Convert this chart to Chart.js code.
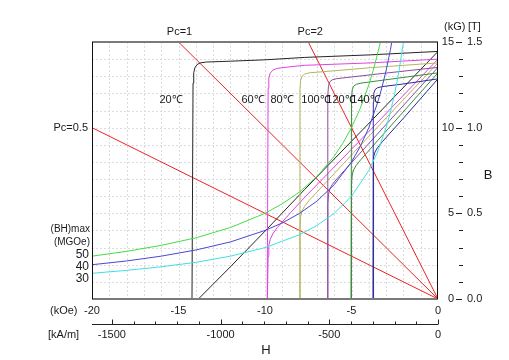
<!DOCTYPE html>
<html>
<head>
<meta charset="utf-8">
<script src="https://cdn.jsdelivr.net/npm/chart.js@4.4.1/dist/chart.umd.min.js"></script>
<style>
  html, body { margin: 0; padding: 0; background: #fff; }
  #wrap { width: 509px; height: 360px; position: relative; }
</style>
</head>
<body>
<div id="wrap"><canvas id="chartBH"></canvas></div>
<script>
// ---- datos (H en kOe, B en kG) ----
const hTicks = [-20, -15, -10, -5, 0];
const kamTicks = [-1500, -1000, -500, 0];
const bTicks = [0, 5, 10, 15];
const teslaTicks = ['0.0', '0.5', '1.0', '1.5'];
const tempLabels = ['20℃', '60℃', '80℃', '100℃', '120℃', '140℃'];
const bhLabels = ['50', '40', '30'];
const curveColors = ['#262626', '#e044e0', '#b4b45c', '#8c4a9c', '#3a8c3a', '#2a2a9c'];

// curvas intrinsecas (J) por temperatura
const j20 = [[-14.22,0],[-14.16,12.6],[-14.12,13.2],[-14.05,13.5],[-13.93,13.68],[-13.75,13.78],[-13.4,13.83],[-12,13.88],[-10,13.96],[-7.7,14.1],[-3.9,14.25],[0,14.45]];
const j60 = [[-9.87,0],[-9.82,12.3],[-9.78,12.9],[-9.7,13.18],[-9.55,13.35],[-9.3,13.46],[-8.5,13.56],[-7.7,13.64],[-3.9,13.78],[0,14.0]];
const j80 = [[-8.02,0],[-7.98,12.2],[-7.94,12.75],[-7.86,13.0],[-7.72,13.12],[-7.45,13.2],[-6,13.32],[-3.9,13.5],[0,13.78]];
const j100 = [[-6.4,0],[-6.37,11.9],[-6.33,12.45],[-6.25,12.68],[-6.1,12.8],[-5.85,12.86],[-3.5,13.13],[0,13.52]];
const j120 = [[-5.03,0],[-5.0,11.7],[-4.96,12.2],[-4.88,12.42],[-4.72,12.53],[-4.45,12.6],[-3.5,12.73],[0,13.2]];
const j140 = [[-3.76,0],[-3.74,11.5],[-3.71,12.0],[-3.64,12.22],[-3.5,12.33],[-3.2,12.4],[-2,12.55],[0,12.85]];

// curvas normales (B)
const b20 = [[-13.85,0],[-12,1.88],[-10,3.96],[-7.7,6.4],[-3.9,10.35],[0,14.45]];
const b60 = [[-9.86,0],[-9.82,2.48],[-9.78,3.12],[-9.7,3.48],[-9.55,3.8],[-9.3,4.16],[-8.5,5.06],[-7.7,5.94],[-3.9,9.88],[0,14.0]];
const b80 = [[-8.0,0],[-7.98,4.22],[-7.94,4.81],[-7.86,5.14],[-7.72,5.4],[-7.45,5.75],[-6,7.32],[-3.9,9.6],[0,13.78]];
const b100 = [[-6.39,0],[-6.37,5.53],[-6.33,6.12],[-6.25,6.43],[-6.1,6.7],[-5.85,7.01],[-3.5,9.63],[0,13.52]];
const b120 = [[-5.02,0],[-5.0,6.7],[-4.96,7.24],[-4.88,7.54],[-4.72,7.81],[-4.45,8.15],[-3.5,9.23],[0,13.2]];
const b140 = [[-3.75,0],[-3.74,7.76],[-3.71,8.29],[-3.64,8.58],[-3.5,8.83],[-3.2,9.2],[-2,10.55],[0,12.85]];

// (BH)max 50 / 40 / 30 MGOe
const bh50 = [[-20,2.5],[-18,2.78],[-16,3.13],[-14,3.57],[-12,4.17],[-10,5.0],[-9,5.56],[-8,6.25],[-7,7.14],[-6,8.33],[-5.5,9.09],[-5,10.0],[-4.5,11.11],[-4,12.5],[-3.75,13.33],[-3.5,14.29],[-3.33,15]];
const bh40 = [[-20,2.0],[-18,2.22],[-16,2.5],[-14,2.86],[-12,3.33],[-10,4.0],[-9,4.44],[-8,5.0],[-7,5.71],[-6,6.67],[-5,8.0],[-4.5,8.89],[-4,10.0],[-3.5,11.43],[-3.25,12.31],[-3,13.33],[-2.75,14.55],[-2.67,15]];
const bh30 = [[-20,1.5],[-18,1.67],[-16,1.88],[-14,2.14],[-12,2.5],[-10,3.0],[-8,3.75],[-7,4.29],[-6,5.0],[-5,6.0],[-4,7.5],[-3.5,8.57],[-3,10.0],[-2.75,10.91],[-2.5,12.0],[-2.25,13.33],[-2,15]];

// rectas de permeancia Pc
const pc05 = [[-20,10],[0,0]];
const pc1 = [[-15,15],[0,0]];
const pc2 = [[-7.5,15],[0,0]];

const KAM_PER_KOE = 79.577;

function toPts(arr) { return arr.map(p => ({ x: p[0], y: p[1] })); }
function serie(arr, color) {
    return { data: toPts(arr), borderColor: color, borderWidth: 1, pointRadius: 0, showLine: true, fill: false, tension: 0 };
}

const datasets = [
    serie(bh50, '#44dd44'),
    serie(bh40, '#4848d0'),
    serie(bh30, '#44dede')
];
[j20, j60, j80, j100, j120, j140].forEach((c, i) => datasets.push(serie(c, curveColors[i])));
[b20, b60, b80, b100, b120, b140].forEach((c, i) => datasets.push(serie(c, curveColors[i])));
[pc05, pc1, pc2].forEach(c => datasets.push(serie(c, '#ee2222')));

const FONT = '"Liberation Sans", Arial, sans-serif';

const ejes = {
    id: 'ejes',
    beforeDatasetsDraw(chart) {
        const { ctx, chartArea: a, scales: { x, y } } = chart;
        ctx.save();
        ctx.strokeStyle = '#dcdcdc';
        ctx.lineWidth = 1;
        ctx.setLineDash([2, 2]);
        for (let h = -19; h <= -1; h++) {
            const px = Math.round(x.getPixelForValue(h)) + 0.5;
            ctx.beginPath(); ctx.moveTo(px, a.top); ctx.lineTo(px, a.bottom); ctx.stroke();
        }
        for (let b = 1; b <= 14; b++) {
            const py = Math.round(y.getPixelForValue(b)) + 0.5;
            ctx.beginPath(); ctx.moveTo(a.left, py); ctx.lineTo(a.right, py); ctx.stroke();
        }
        ctx.restore();
    },
    afterDatasetsDraw(chart) {
        const { ctx, chartArea: a, scales: { x, y } } = chart;
        ctx.save();
        // marco
        ctx.strokeStyle = '#7a7a7a';
        ctx.lineWidth = 2;
        ctx.beginPath(); ctx.moveTo(a.left, a.top); ctx.lineTo(a.right, a.top); ctx.stroke();
        ctx.beginPath(); ctx.moveTo(a.left, a.bottom); ctx.lineTo(a.right, a.bottom); ctx.stroke();
        ctx.strokeStyle = '#111';
        ctx.lineWidth = 1;
        ctx.beginPath(); ctx.moveTo(a.left + 0.5, a.top); ctx.lineTo(a.left + 0.5, a.bottom); ctx.stroke();
        ctx.beginPath(); ctx.moveTo(a.right - 0.5, a.top); ctx.lineTo(a.right - 0.5, a.bottom); ctx.stroke();

        ctx.fillStyle = '#1a1a1a';
        ctx.font = '11px ' + FONT;
        ctx.textBaseline = 'middle';

        // eje H en kOe
        ctx.textAlign = 'center';
        hTicks.forEach(h => ctx.fillText(String(h), x.getPixelForValue(h), a.bottom + 12));
        ctx.textAlign = 'left';
        ctx.fillText('(kOe)', 50, a.bottom + 12);

        // eje H en kA/m
        const yk = a.bottom + 25.5;
        ctx.strokeStyle = '#222';
        ctx.beginPath(); ctx.moveTo(a.left, yk); ctx.lineTo(a.right, yk); ctx.stroke();
        for (let k = -1500; k <= 0; k += 100) {
            const px = Math.round(x.getPixelForValue(k / KAM_PER_KOE)) + 0.5;
            const len = (k % 500 === 0) ? 5 : 3;
            ctx.beginPath(); ctx.moveTo(px, yk); ctx.lineTo(px, yk - len); ctx.stroke();
        }
        ctx.textAlign = 'center';
        kamTicks.forEach(k => ctx.fillText(String(k), x.getPixelForValue(k / KAM_PER_KOE), a.bottom + 36));
        ctx.textAlign = 'left';
        ctx.fillText('[kA/m]', 48, a.bottom + 36);

        // eje B a la derecha (kG y T)
        for (let b = 0; b <= 15; b++) {
            const py = Math.round(y.getPixelForValue(b)) + 0.5;
            ctx.beginPath();
            if (b % 5 === 0) { ctx.moveTo(a.right + 18, py); ctx.lineTo(a.right + 24, py); }
            else { ctx.moveTo(a.right + 21, py); ctx.lineTo(a.right + 25, py); }
            ctx.stroke();
        }
        bTicks.forEach((b, i) => {
            const py = y.getPixelForValue(b);
            ctx.textAlign = 'right';
            ctx.fillText(String(b), a.right + 16, py);
            ctx.textAlign = 'left';
            ctx.fillText(teslaTicks[i], a.right + 29, py);
        });
        ctx.textAlign = 'left';
        ctx.fillText('(kG)', a.right + 6, 27);
        ctx.fillText('[T]', a.right + 30, 27);

        // titulos de ejes
        ctx.font = '13px ' + FONT;
        ctx.textAlign = 'center';
        ctx.fillText('H', 266, 350);
        ctx.fillText('B', 488, 175);

        // rectas Pc
        ctx.font = '11px ' + FONT;
        ctx.fillText('Pc=1', x.getPixelForValue(-15) + 1, 32);
        ctx.fillText('Pc=2', x.getPixelForValue(-7.5) + 2, 32);
        ctx.textAlign = 'right';
        ctx.fillText('Pc=0.5', a.left - 4, y.getPixelForValue(10));

        // temperaturas
        const tempX = [171, 253, 282, 316, 341, 366];
        ctx.textAlign = 'center';
        tempLabels.forEach((t, i) => ctx.fillText(t, tempX[i], 100));

        // (BH)max
        ctx.textAlign = 'right';
        ctx.font = '10px ' + FONT;
        ctx.fillText('(BH)max', a.left - 2, 229);
        ctx.fillText('(MGOe)', a.left - 2, 242);
        ctx.font = '12px ' + FONT;
        bhLabels.forEach((t, i) => ctx.fillText(t, a.left - 3, 255 + i * 11.7));
        ctx.restore();
    }
};

new Chart(document.getElementById('chartBH').getContext('2d'), {
    type: 'scatter',
    data: { datasets: datasets },
    options: {
        responsive: true,
        maintainAspectRatio: false,
        animation: false,
        layout: { padding: { left: 92, right: 71, top: 42, bottom: 61 } },
        plugins: { legend: { display: false }, tooltip: { enabled: false } },
        scales: {
            x: { type: 'linear', min: -20, max: 0, display: false },
            y: { type: 'linear', min: 0, max: 15, display: false }
        }
    },
    plugins: [ejes]
});
</script>
</body>
</html>
